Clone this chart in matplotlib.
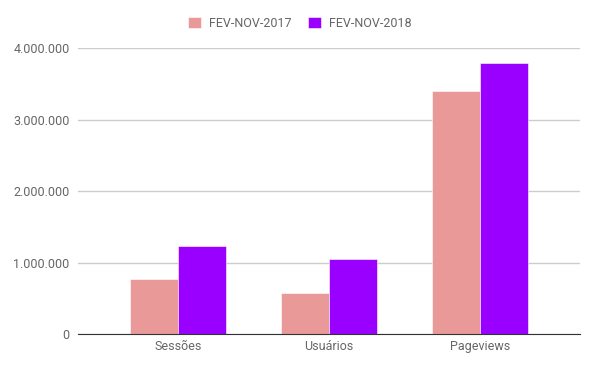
import numpy as np
from matplotlib import pyplot as plt
from matplotlib.ticker import FuncFormatter

categories = ["Sessões", "Usuários", "Pageviews"]
series_names = ["FEV-NOV-2017", "FEV-NOV-2018"]
valores_2017 = [765000, 569000, 3394000]
valores_2018 = [1231000, 1045000, 3786000]
cores = ["#ea9999", "#9900ff"]

plt.rcParams['font.family'] = ['Roboto', 'DejaVu Sans']

fig = plt.figure(figsize=(6, 3.71), dpi=100)
ax = fig.add_axes([0.13, 0.0997, 0.8367, 0.7709])

x = np.arange(len(categories))
largura = 0.318
ax.bar(x - largura / 2 - 0.002, valores_2017, largura, color=cores[0],
       edgecolor='white', linewidth=0.4, label=series_names[0], zorder=3)
ax.bar(x + largura / 2 + 0.002, valores_2018, largura, color=cores[1],
       edgecolor='white', linewidth=0.4, label=series_names[1], zorder=3)

ax.set_xlim(-0.662, 2.662)
ax.set_ylim(0, 4000000)
ax.set_yticks([0, 1000000, 2000000, 3000000, 4000000])
ax.yaxis.set_major_formatter(FuncFormatter(lambda v, p: f"{int(v):,}".replace(",", ".")))
ax.set_xticks(x)
ax.set_xticklabels(categories)

ax.grid(axis='y', color='#cccccc', linewidth=1, zorder=0)
for s in ['top', 'right', 'left']:
    ax.spines[s].set_visible(False)
ax.spines['bottom'].set_color('#333333')
ax.spines['bottom'].set_zorder(4)
ax.tick_params(axis='both', length=0, labelsize=9, labelcolor='#666666')
ax.tick_params(axis='y', pad=6)
ax.tick_params(axis='x', pad=4)

fig.legend(loc='center', bbox_to_anchor=(0.5, 0.938), ncol=2, frameon=False,
           fontsize=9, labelcolor='#666666', handlelength=1.0, handleheight=1.0,
           columnspacing=1.3, handletextpad=0.7)

plt.savefig("out.png")
